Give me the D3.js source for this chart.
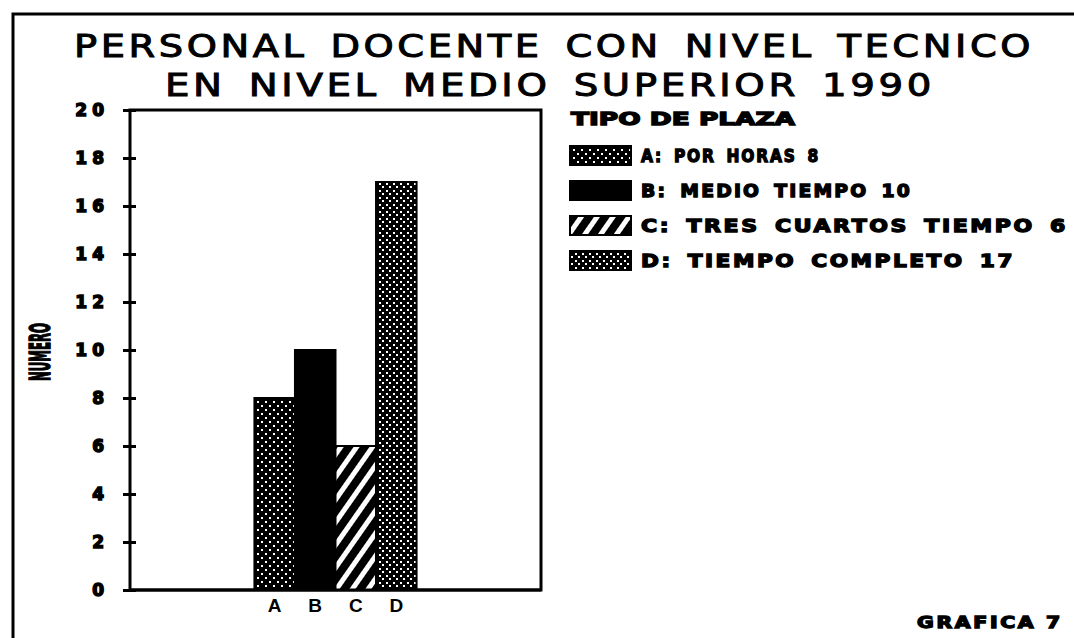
<!DOCTYPE html>
<html>
<head>
<meta charset="utf-8">
<script src="https://cdn.jsdelivr.net/npm/d3@7"></script>
<style>
  html, body { margin: 0; padding: 0; background: #fff; }
  svg { display: block; }
</style>
</head>
<body>
<div id="chart"></div>
<script>
const categories = ["A", "B", "C", "D"];
const values = [8, 10, 6, 17];
const yTicks = [0, 2, 4, 6, 8, 10, 12, 14, 16, 18, 20];
const titleLines = ["PERSONAL DOCENTE CON NIVEL TECNICO", "EN NIVEL MEDIO SUPERIOR 1990"];
const legendTitle = "TIPO DE PLAZA";
const legendLabels = ["A: POR HORAS 8", "B: MEDIO TIEMPO 10", "C: TRES CUARTOS TIEMPO 6", "D: TIEMPO COMPLETO 17"];
const yLabel = "NUMERO";
const footer = "GRAFICA 7";

const W = 1074, H = 638;
const plot = { left: 130, right: 541, top: 110, bottom: 590 };

const svg = d3.select("#chart").append("svg")
  .attr("width", W)
  .attr("height", H);

// fill patterns (stipple, solid, stripes)
const defs = svg.append("defs");

const dotsA = defs.append("pattern")
  .attr("id", "dotsA")
  .attr("patternUnits", "userSpaceOnUse")
  .attr("width", 8).attr("height", 8);
dotsA.append("rect").attr("width", 8).attr("height", 8).attr("fill", "#000");
dotsA.append("rect").attr("x", 1).attr("y", 1).attr("width", 2).attr("height", 2).attr("fill", "#fff");
dotsA.append("rect").attr("x", 5).attr("y", 5).attr("width", 2).attr("height", 2).attr("fill", "#fff");

const dotsD = defs.append("pattern")
  .attr("id", "dotsD")
  .attr("patternUnits", "userSpaceOnUse")
  .attr("width", 7).attr("height", 7);
dotsD.append("rect").attr("width", 7).attr("height", 7).attr("fill", "#000");
dotsD.append("rect").attr("x", 1).attr("y", 1).attr("width", 2).attr("height", 2).attr("fill", "#fff");
dotsD.append("rect").attr("x", 4).attr("y", 4).attr("width", 2).attr("height", 2).attr("fill", "#fff");

const stripes = defs.append("pattern")
  .attr("id", "stripes")
  .attr("patternUnits", "userSpaceOnUse")
  .attr("width", 13).attr("height", 13)
  .attr("patternTransform", "rotate(35)");
stripes.append("rect").attr("width", 13).attr("height", 13).attr("fill", "#000");
stripes.append("rect").attr("x", 0).attr("width", 5).attr("height", 13).attr("fill", "#fff");

const fills = ["url(#dotsA)", "#000", "url(#stripes)", "url(#dotsD)"];

// page frame
svg.append("path")
  .attr("d", `M13,${H} L13,14 L${W},14`)
  .attr("fill", "none")
  .attr("stroke", "#000")
  .attr("stroke-width", 3);

// helper for the heavy, stretched lettering of the original
function heavyText(sel, size, len, stroke) {
  return sel
    .attr("textLength", len)
    .attr("lengthAdjust", "spacingAndGlyphs")
    .style("font-family", "DejaVu Sans, sans-serif")
    .style("font-size", size + "px")
    .style("font-weight", "bold")
    .style("fill", "#000")
    .style("stroke", "#000")
    .style("stroke-width", stroke);
}

// title
const titleSpecs = [
  { x: 74, y: 57, len: 960 },
  { x: 165, y: 96, len: 770 }
];
titleLines.forEach((t, i) => {
  svg.append("text")
    .attr("x", titleSpecs[i].x)
    .attr("y", titleSpecs[i].y)
    .attr("textLength", titleSpecs[i].len)
    .attr("lengthAdjust", "spacingAndGlyphs")
    .style("font-family", "DejaVu Sans, sans-serif")
    .style("font-size", "32px")
    .style("letter-spacing", "3px")
    .style("word-spacing", "6px")
    .style("fill", "#000")
    .style("stroke", "#000")
    .style("stroke-width", 1)
    .text(t);
});

// scales
const y = d3.scaleLinear().domain([0, 20]).range([plot.bottom, plot.top]);
const x = d3.scaleBand()
  .domain(categories)
  .range([plot.left, plot.right])
  .paddingInner(0)
  .paddingOuter(3.07);

// plot box
svg.append("rect")
  .attr("x", plot.left)
  .attr("y", y(20))
  .attr("width", plot.right - plot.left)
  .attr("height", y(0) - y(20))
  .attr("fill", "none")
  .attr("stroke", "#000")
  .attr("stroke-width", 3);

// y axis ticks crossing the axis line
const yAxis = svg.append("g")
  .attr("transform", `translate(${plot.left},0)`)
  .call(d3.axisLeft(y).tickValues(yTicks).tickSize(7).tickPadding(14));
yAxis.select(".domain").remove();
yAxis.selectAll(".tick line")
  .attr("x1", -7).attr("x2", 6)
  .attr("stroke", "#000")
  .attr("stroke-width", 3);
yAxis.selectAll(".tick text")
  .style("font-family", "DejaVu Sans, sans-serif")
  .style("font-size", "17px")
  .style("font-weight", "bold")
  .style("letter-spacing", "5px")
  .style("fill", "#000")
  .style("stroke", "#000")
  .style("stroke-width", 1.5);

// y axis label
svg.append("text")
  .attr("transform", `translate(50,${(y(0) + y(20)) / 2 + 2}) rotate(-90)`)
  .attr("text-anchor", "middle")
  .attr("textLength", 58)
  .attr("lengthAdjust", "spacingAndGlyphs")
  .style("font-family", "DejaVu Sans, sans-serif")
  .style("font-size", "28px")
  .style("font-weight", "bold")
  .style("fill", "#000")
  .style("stroke", "#000")
  .style("stroke-width", 1.5)
  .text(yLabel);

// bars
svg.selectAll("rect.bar")
  .data(values)
  .enter()
  .append("rect")
  .attr("class", "bar")
  .attr("x", (d, i) => x(categories[i]))
  .attr("y", d => y(d))
  .attr("width", x.bandwidth())
  .attr("height", d => y(0) - y(d))
  .attr("fill", (d, i) => fills[i])
  .attr("stroke", "#000")
  .attr("stroke-width", 2);

// baseline drawn again over the bars
svg.append("line")
  .attr("x1", plot.left).attr("x2", plot.right)
  .attr("y1", y(0)).attr("y2", y(0))
  .attr("stroke", "#000")
  .attr("stroke-width", 3);

// x labels
const xAxis = svg.append("g")
  .attr("transform", `translate(0,${y(0)})`)
  .call(d3.axisBottom(x).tickSize(0).tickPadding(9));
xAxis.select(".domain").remove();
xAxis.selectAll(".tick text")
  .style("font-family", "Liberation Sans Narrow, Liberation Sans, sans-serif")
  .style("font-size", "19px")
  .style("font-weight", "bold")
  .style("fill", "#000");

// legend
const legend = svg.append("g");
heavyText(legend.append("text").attr("x", 571).attr("y", 125), 17, 224, 1.3)
  .text(legendTitle);

const legendLens = [179, 271, 427, 374];
legendLabels.forEach((label, i) => {
  const cy = 155 + i * 35;
  legend.append("rect")
    .attr("x", 570)
    .attr("y", cy - 9)
    .attr("width", 61)
    .attr("height", 19)
    .attr("fill", fills[i])
    .attr("stroke", "#000")
    .attr("stroke-width", 2);
  heavyText(legend.append("text").attr("x", 641).attr("y", cy + 7), 17, legendLens[i], 1.3)
    .style("letter-spacing", "2px")
    .style("word-spacing", "4px")
    .text(label);
});

// footer
heavyText(svg.append("text").attr("x", 917).attr("y", 628), 15, 146, 1.3)
  .style("letter-spacing", "2px")
  .text(footer);
</script>
</body>
</html>
